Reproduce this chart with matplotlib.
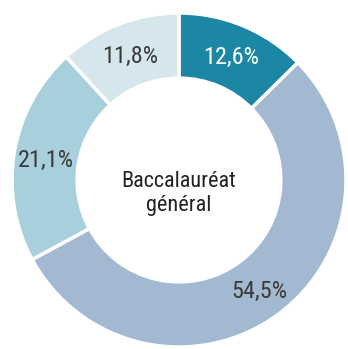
import matplotlib.pyplot as plt

# parts des bacheliers, sens horaire depuis le haut
labels = ['12,6%', '54,5%', '21,1%', '11,8%']
values = [12.6, 54.5, 21.1, 11.8]
colors = ['#1c87a5', '#a3b9d1', '#a7cfdc', '#d5e7ed']
text_colors = ['white', '#3a3a3a', '#3a3a3a', '#3a3a3a']

plt.rcParams['font.family'] = ['Roboto Condensed', 'Roboto', 'DejaVu Sans']

fig = plt.figure(figsize=(3.48, 3.49), dpi=100)
r = 167
cx, cy = 179, 180
ax = fig.add_axes([(cx - r) / 348, (349 - cy - r) / 349, 2 * r / 348, 2 * r / 349])

wedges, texts = ax.pie(values, colors=colors, startangle=90, counterclock=False,
                       radius=1, labels=labels, labeldistance=0.81,
                       wedgeprops=dict(width=0.39, edgecolor='white', linewidth=2.5),
                       textprops=dict(fontsize=17.5))
for t, c in zip(texts, text_colors):
    t.set_color(c)
    t.set_ha('center')
    t.set_va('center_baseline')

ax.text(0, -0.08, 'Baccalauréat\ngénéral', ha='center', va='center', fontsize=16,
        color='#222222', linespacing=1.2)
ax.set_xlim(-1, 1)
ax.set_ylim(-1, 1)
ax.set_aspect('auto')
ax.axis('off')

fig.savefig('out.png', dpi=100)
